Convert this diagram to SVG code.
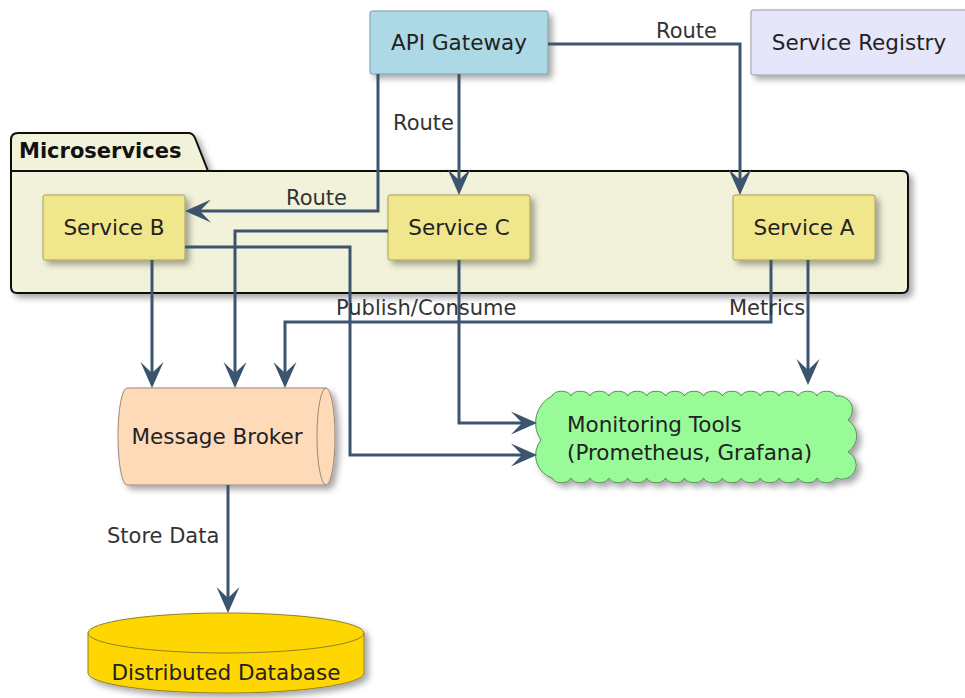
<svg xmlns="http://www.w3.org/2000/svg" width="965" height="698" viewBox="0 0 965 698">
  <style>
    .node-text { font-family: "DejaVu Sans", "Liberation Sans", sans-serif; font-size: 21.5px; fill: #222; }
    .label { font-family: "DejaVu Sans", "Liberation Sans", sans-serif; font-size: 21px; fill: #333; }
    .pkg-title { font-family: "DejaVu Sans", "Liberation Sans", sans-serif; font-size: 21px; font-weight: bold; fill: #111; }
    .edge { fill: none; stroke: #3C556E; stroke-width: 3; marker-end: url(#arrow); }
    .shadowed { filter: url(#shadow); }
  </style>
  <defs>
    <filter id="shadow" x="-10%" y="-10%" width="130%" height="140%">
      <feDropShadow dx="4" dy="4" stdDeviation="3" flood-color="#000" flood-opacity="0.35"/>
    </filter>
    <marker id="arrow" markerUnits="userSpaceOnUse" viewBox="-28 -13 34 26" refX="-4" refY="0" markerWidth="34" markerHeight="26" orient="auto">
      <path d="M0,0 L-26,-11.5 L-15,0 L-26,11.5 Z" fill="#3C556E"/>
    </marker>
  </defs>

  <!-- Microservices package -->
  <g id="microservices">
    <path class="shadowed" d="M11,171 V140 Q11,133 18,133 H188 Q193,133 195,138 L208,171 H902 Q908,171 908,177 V287 Q908,293 902,293 H17 Q11,293 11,287 Z" fill="#F2F2DA" stroke="#111" stroke-width="2"/>
    <path d="M11,171 H208" fill="none" stroke="#111" stroke-width="2"/>
    <text class="pkg-title" x="19" y="158">Microservices</text>
  </g>

  <!-- Nodes -->
  <g id="api-gateway">
    <rect class="shadowed" x="370" y="11" width="178" height="63" rx="2" fill="#ADD8E6" stroke="#7A9CA6" stroke-width="1"/>
    <text class="node-text" x="459" y="50" text-anchor="middle">API Gateway</text>
  </g>

  <g id="service-registry">
    <rect class="shadowed" x="751" y="10" width="220" height="65" rx="2" fill="#E6E6FA" stroke="#9A9AA6" stroke-width="1"/>
    <text class="node-text" x="859" y="50" text-anchor="middle">Service Registry</text>
  </g>

  <g id="service-b">
    <rect class="shadowed" x="43" y="195" width="142" height="65" rx="2" fill="#F0E68C" stroke="#A89F56" stroke-width="1"/>
    <text class="node-text" x="114" y="235" text-anchor="middle">Service B</text>
  </g>

  <g id="service-c">
    <rect class="shadowed" x="388" y="195" width="142" height="65" rx="2" fill="#F0E68C" stroke="#A89F56" stroke-width="1"/>
    <text class="node-text" x="459" y="235" text-anchor="middle">Service C</text>
  </g>

  <g id="service-a">
    <rect class="shadowed" x="733" y="195" width="142" height="65" rx="2" fill="#F0E68C" stroke="#A89F56" stroke-width="1"/>
    <text class="node-text" x="804" y="235" text-anchor="middle">Service A</text>
  </g>

  <g id="message-broker">
    <path class="shadowed" d="M127,388 H326 A9,48.5 0 0 1 326,485 H127 A9,48.5 0 0 1 127,388 Z" fill="#FFDAB9" stroke="#9C8878" stroke-width="1"/>
    <path d="M326,388 A9,48.5 0 0 0 326,485" fill="none" stroke="#9C8878" stroke-width="1"/>
    <text class="node-text" x="217" y="444" text-anchor="middle">Message Broker</text>
  </g>

  <g id="monitoring-tools">
    <path class="shadowed" fill="#98FB98" stroke="#5C8C5C" stroke-width="1"
      d="M552,396
         a10,7 0 0 1 18.93,0 a10,7 0 0 1 18.93,0 a10,7 0 0 1 18.93,0 a10,7 0 0 1 18.93,0 a10,7 0 0 1 18.93,0
         a10,7 0 0 1 18.93,0 a10,7 0 0 1 18.93,0 a10,7 0 0 1 18.93,0 a10,7 0 0 1 18.93,0 a10,7 0 0 1 18.93,0
         a10,7 0 0 1 18.93,0 a10,7 0 0 1 18.93,0 a10,7 0 0 1 18.93,0 a10,7 0 0 1 18.93,0 a10,7 0 0 1 18.93,0
         a14,14 0 0 1 12,24 a22,20 0 0 1 0,32 a14,14 0 0 1 -12,26
         a10,7 0 0 1 -18.93,0 a10,7 0 0 1 -18.93,0 a10,7 0 0 1 -18.93,0 a10,7 0 0 1 -18.93,0 a10,7 0 0 1 -18.93,0
         a10,7 0 0 1 -18.93,0 a10,7 0 0 1 -18.93,0 a10,7 0 0 1 -18.93,0 a10,7 0 0 1 -18.93,0 a10,7 0 0 1 -18.93,0
         a10,7 0 0 1 -18.93,0 a10,7 0 0 1 -18.93,0 a10,7 0 0 1 -18.93,0 a10,7 0 0 1 -18.93,0 a10,7 0 0 1 -18.93,0
         a24,24 0 0 1 -11,-38 a30,30 0 0 1 11,-44 Z"/>
    <text class="node-text" x="567" y="432">Monitoring Tools</text>
    <text class="node-text" x="567" y="460">(Prometheus, Grafana)</text>
  </g>

  <g id="distributed-database">
    <path class="shadowed" d="M88,633 A138,20 0 0 1 364,633 V673 A138,20 0 0 1 88,673 Z" fill="#FFD700" stroke="#8F7F2A" stroke-width="1"/>
    <path d="M88,633 A138,20 0 0 0 364,633" fill="none" stroke="#8F7F2A" stroke-width="1"/>
    <text class="node-text" x="226" y="680" text-anchor="middle">Distributed Database</text>
  </g>

  <!-- Connectors -->
  <g id="connectors">
    <path class="edge" d="M378,74 V211 H189"/>
    <path class="edge" d="M459,74 V191"/>
    <path class="edge" d="M548,44 H740 V191"/>
    <path class="edge" d="M152,260 V384"/>
    <path class="edge" d="M388,231 H235 V384"/>
    <path class="edge" d="M771,260 V322 H285 V384"/>
    <path class="edge" d="M808,260 V381"/>
    <path class="edge" d="M459,260 V423 H533"/>
    <path class="edge" d="M185,247 H350 V455 H533"/>
    <path class="edge" d="M228,485 V609"/>

    <text class="label" x="656" y="38">Route</text>
    <text class="label" x="393" y="130">Route</text>
    <text class="label" x="286" y="205">Route</text>
    <text class="label" x="336" y="315">Publish/Consume</text>
    <text class="label" x="729" y="315">Metrics</text>
    <text class="label" x="107" y="543">Store Data</text>
  </g>
</svg>
